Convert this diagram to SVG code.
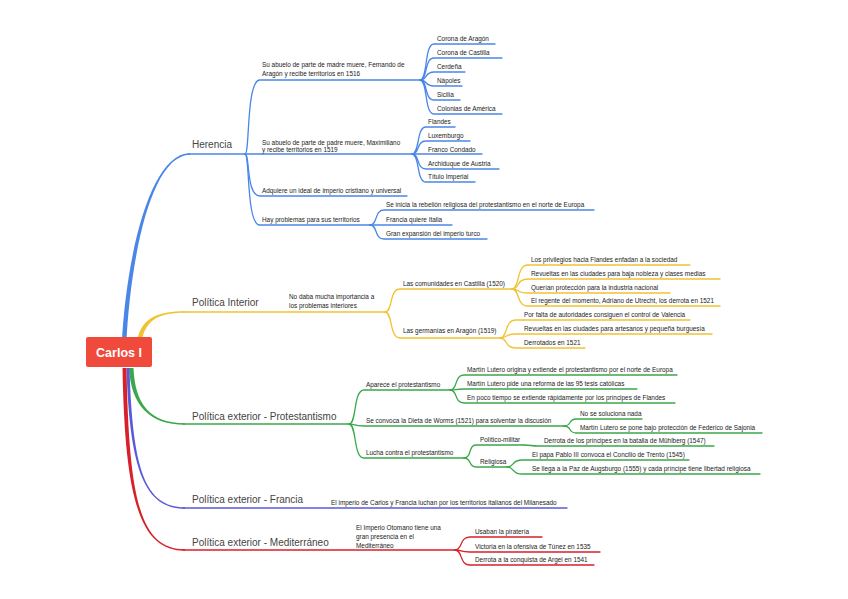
<svg xmlns="http://www.w3.org/2000/svg" width="848" height="599" viewBox="0 0 848 599">
<style>
text{font-family:"Liberation Sans",Arial,sans-serif;fill:#222}
.m{font-size:10px;fill:#444}
.d{font-size:6.4px}
.c{fill:none;stroke-width:1.3;stroke-linecap:round}
.b{stroke:#4a86e8}.y{stroke:#f1c232}.g{stroke:#3aa84a}.p{stroke:#5a5ad8}.r{stroke:#d8202a}
</style>
<rect width="848" height="599" fill="#fff"/>
<g id="connectors">
<path fill="#4a86e8" d="M121.75 345 C125.8 259.5 149.5 153 190 153.25 L190 154.75 C150.5 155 130.2 260.5 126.25 345 Z"/>
<path class="c b" stroke-width="1.6" d="M188 154 L245 154"/>
<path fill="#f1c232" d="M137.8 337.5 C143 317 160 311.2 185 311.25 L185 312.75 C160 312.8 147 319 142.2 338.5 Z"/>
<path class="c y" stroke-width="1.6" d="M183 312 L385 312"/>
<path fill="#3aa84a" d="M129 368 C131 405.5 150 424.8 185 424.75 L185 423.25 C150 423.2 135 404.5 133.5 368 Z"/>
<path class="c g" stroke-width="1.6" d="M183 424 L349 424"/>
<path fill="#5a5ad8" d="M126.5 368 C129.5 470.5 145 508.75 185 508.75 L185 507.25 C145 507.25 132.5 469.5 129.5 368 Z"/>
<path class="c p" stroke-width="1.6" d="M183 508 L567 508"/>
<path fill="#d8202a" d="M122.5 368 C125 500.5 140 550.75 185 550.75 L185 549.25 C140 549.25 129 499.5 126.5 368 Z"/>
<path class="c r" stroke-width="1.6" d="M183 550 L455 550"/>
<path class="c b" d="M245 154 C250 154 246 80 260 80 L420 80"/>
<path class="c b" d="M245 154 L412 154"/>
<path class="c b" d="M245 154 C250 154 246 196 260 196 L407 196"/>
<path class="c b" d="M245 154 C250 154 246 225 260 225 L370 225"/>
<path class="c b" d="M420 80 C428 80 424 44 434 44 L495 44"/>
<path class="c b" d="M420 80 C428 80 424 58 434 58 L502 58"/>
<path class="c b" d="M420 80 C428 80 424 72 434 72 L465 72"/>
<path class="c b" d="M420 80 C428 80 424 86 434 86 L462 86"/>
<path class="c b" d="M420 80 C428 80 424 100 434 100 L460 100"/>
<path class="c b" d="M420 80 C428 80 424 114 434 114 L502 114"/>
<path class="c b" d="M412 154 C420 154 416 127 426 127 L455 127"/>
<path class="c b" d="M412 154 C420 154 416 141 426 141 L470 141"/>
<path class="c b" d="M412 154 L482 154"/>
<path class="c b" d="M412 154 C420 154 416 169 426 169 L499 169"/>
<path class="c b" d="M412 154 C420 154 416 182 426 182 L475 182"/>
<path class="c b" d="M370 225 C378 225 374 210 384 210 L594 210"/>
<path class="c b" d="M370 225 L452 225"/>
<path class="c b" d="M370 225 C378 225 374 239 384 239 L487 239"/>
<path class="c y" d="M385 312 C393 312 389 289 400 289 L512 289"/>
<path class="c y" d="M385 312 C393 312 389 338 400 338 L500 338"/>
<path class="c y" d="M512 289 C520 289 516 265 528 265 L690 265"/>
<path class="c y" d="M512 289 C520 289 516 279 528 279 L720 279"/>
<path class="c y" d="M512 289 C520 289 516 293 528 293 L670 293"/>
<path class="c y" d="M512 289 C520 289 516 306 528 306 L720 306"/>
<path class="c y" d="M500 338 C508 338 504 320 516 320 L690 320"/>
<path class="c y" d="M500 338 C508 338 504 334 516 334 L712 334"/>
<path class="c y" d="M500 338 C508 338 504 348 516 348 L585 348"/>
<path class="c g" d="M349 424 C357 424 353 390 364 390 L450 390"/>
<path class="c g" d="M349 424 C354 424 354 426 364 426 L564 426"/>
<path class="c g" d="M349 424 C357 424 353 458 364 458 L464 458"/>
<path class="c g" d="M450 390 C458 390 454 375 464 375 L677 375"/>
<path class="c g" d="M450 390 C458 390 454 389 464 389 L637 389"/>
<path class="c g" d="M450 390 C458 390 454 403 464 403 L675 403"/>
<path class="c g" d="M564 426 C572 426 568 419 576 419 L642 419"/>
<path class="c g" d="M564 426 C572 426 568 433 576 433 L762 433"/>
<path class="c g" d="M464 458 C472 458 468 445 476 445 L524 445"/>
<path class="c g" d="M464 458 C472 458 468 467 476 467 L507 467"/>
<path class="c g" d="M524 445 C532 445 530 446 538 446 L714 446"/>
<path class="c g" d="M507 467 C515 467 511 460 522 460 L689 460"/>
<path class="c g" d="M507 467 C515 467 511 474 522 474 L760 474"/>
<path class="c r" d="M455 550 C463 550 459 537 470 537 L542 537"/>
<path class="c r" d="M455 550 C463 550 459 552 470 552 L600 552"/>
<path class="c r" d="M455 550 C463 550 459 565 470 565 L594 565"/>
</g>
<g id="carlos">
<rect x="86" y="337" width="66" height="30" rx="2" fill="#f04a3c"/>
<text x="119" y="357" text-anchor="middle" style="font-size:12.5px;font-weight:bold;fill:#fff">Carlos I</text>
</g>
<g id="herencia">
<text class="m" x="192" y="148">Herencia</text>
<text class="d" x="262" y="67">Su abuelo de parte de madre muere, Fernando de</text>
<text class="d" x="262" y="75.5">Aragón y recibe territorios en 1516</text>
<text class="d" x="437" y="41">Corona de Aragón</text>
<text class="d" x="437" y="55">Corona de Castilla</text>
<text class="d" x="437" y="69">Cerdeña</text>
<text class="d" x="437" y="83">Nápoles</text>
<text class="d" x="437" y="97">Sicilia</text>
<text class="d" x="437" y="111">Colonias de América</text>
<text class="d" x="262" y="144.5">Su abuelo de parte de padre muere, Maximiliano</text>
<text class="d" x="262" y="152">y recibe territorios en 1519</text>
<text class="d" x="428" y="124">Flandes</text>
<text class="d" x="428" y="138">Luxemburgo</text>
<text class="d" x="428" y="151.5">Franco Condado</text>
<text class="d" x="428" y="166">Archiduque de Austria</text>
<text class="d" x="428" y="179">Título Imperial</text>
<text class="d" x="262" y="192.5">Adquiere un ideal de imperio cristiano y universal</text>
<text class="d" x="262" y="221.5">Hay problemas para sus territorios</text>
<text class="d" x="386" y="207">Se inicia la rebelión religiosa del protestantismo en el norte de Europa</text>
<text class="d" x="386" y="221.5">Francia quiere Italia</text>
<text class="d" x="386" y="235.5">Gran expansión del imperio turco</text>
</g>
<g id="interior">
<text class="m" x="192" y="306">Política Interior</text>
<text class="d" x="289" y="299">No daba mucha importancia a</text>
<text class="d" x="289" y="307.5">los problemas interiores</text>
<text class="d" x="403" y="285.5">Las comunidades en Castilla (1520)</text>
<text class="d" x="531" y="262">Los privilegios hacia Flandes enfadan a la sociedad</text>
<text class="d" x="531" y="276">Revueltas en las ciudades para baja nobleza y clases medias</text>
<text class="d" x="531" y="290">Querían protección para la industria nacional</text>
<text class="d" x="531" y="303">El regente del momento, Adriano de Utrecht, los derrota en 1521</text>
<text class="d" x="403" y="333">Las germanías en Aragón (1519)</text>
<text class="d" x="524" y="317">Por falta de autoridades consiguen el control de Valencia</text>
<text class="d" x="524" y="331">Revueltas en las ciudades para artesanos y pequeña burguesía</text>
<text class="d" x="524" y="345">Derrotados en 1521</text>
</g>
<g id="protestantismo">
<text class="m" x="192" y="419.5">Política exterior - Protestantismo</text>
<text class="d" x="366" y="386.5">Aparece el protestantismo</text>
<text class="d" x="467" y="372">Martín Lutero origina y extiende el protestantismo por el norte de Europa</text>
<text class="d" x="467" y="386">Martín Lutero pide una reforma de las 95 tesis católicas</text>
<text class="d" x="467" y="400">En poco tiempo se extiende rápidamente por los príncipes de Flandes</text>
<text class="d" x="366" y="422.5">Se convoca la Dieta de Worms (1521) para solventar la discusión</text>
<text class="d" x="580" y="416">No se soluciona nada</text>
<text class="d" x="580" y="430">Martín Lutero se pone bajo protección de Federico de Sajonia</text>
<text class="d" x="366" y="454.5">Lucha contra el protestantismo</text>
<text class="d" x="480" y="442">Político-militar</text>
<text class="d" x="544" y="443">Derrota de los príncipes en la batalla de Mühlberg (1547)</text>
<text class="d" x="480" y="464">Religiosa</text>
<text class="d" x="532" y="457">El papa Pablo III convoca el Concilio de Trento (1545)</text>
<text class="d" x="532" y="471">Se llega a la Paz de Augsburgo (1555) y cada príncipe tiene libertad religiosa</text>
</g>
<g id="francia">
<text class="m" x="192" y="503">Política exterior - Francia</text>
<text class="d" x="331" y="504.5">El imperio de Carlos y Francia luchan por los territorios italianos del Milanesado</text>
</g>
<g id="mediterraneo">
<text class="m" x="192" y="546">Política exterior - Mediterráneo</text>
<text class="d" x="356" y="530">El Imperio Otomano tiene una</text>
<text class="d" x="356" y="539">gran presencia en el</text>
<text class="d" x="356" y="548">Mediterráneo</text>
<text class="d" x="475" y="534">Usaban la piratería</text>
<text class="d" x="475" y="549">Victoria en la ofensiva de Túnez en 1535</text>
<text class="d" x="475" y="562">Derrota a la conquista de Argel en 1541</text>
</g>
</svg>
